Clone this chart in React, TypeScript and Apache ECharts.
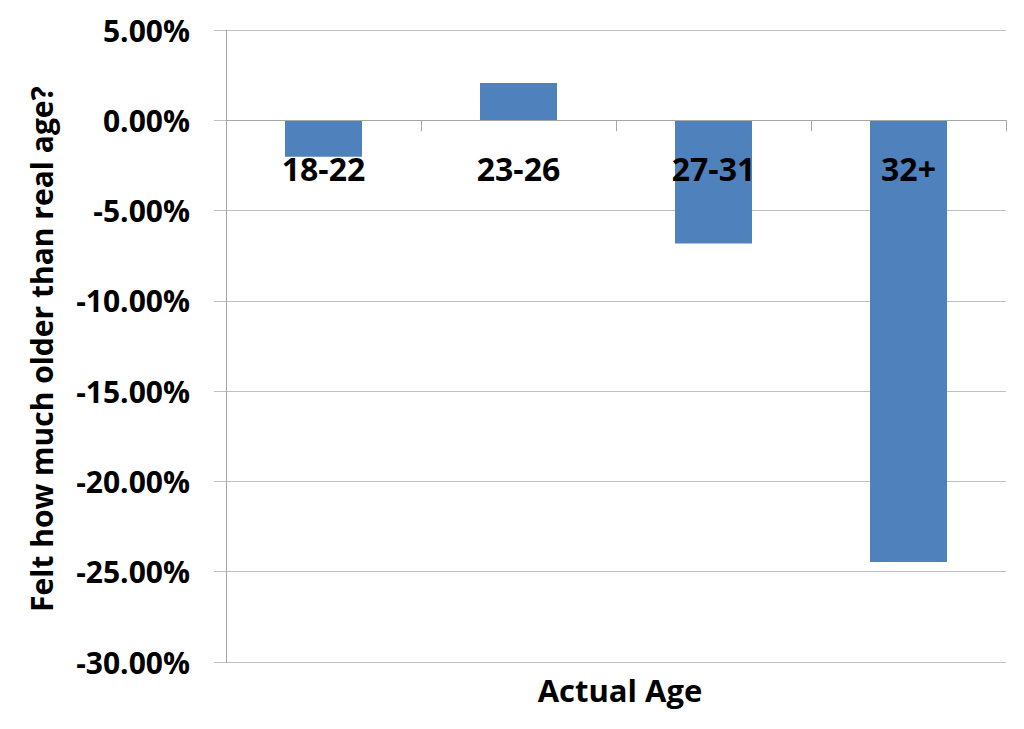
import React, { useEffect, useRef } from "react";
import * as echarts from "echarts";

const categories = ["18-22", "23-26", "27-31", "32+"];
const values = [-2.02, 2.06, -6.83, -24.46];
const yMin = -30;
const yMax = 5;
const yInterval = 5;
const xAxisTitle = "Actual Age";
const yAxisTitle = "Felt how much older than real age?";

const FONT = "'Open Sans', 'DejaVu Sans', sans-serif";

export default function App() {
  const ref = useRef<HTMLDivElement>(null);
  useEffect(() => {
    if (!ref.current) return;
    const chart = echarts.init(ref.current, undefined, { renderer: "svg" });
    const baseGraphics: any[] = [
      {
        type: "text",
        x: 620,
        y: 690,
        style: {
          text: xAxisTitle,
          fill: "#000",
          font: `bold 31px ${FONT}`,
          align: "center",
          verticalAlign: "middle",
        },
      },
      {
        type: "text",
        x: 41,
        y: 349,
        rotation: Math.PI / 2,
        style: {
          text: yAxisTitle,
          fill: "#000",
          font: `bold 30px ${FONT}`,
          align: "center",
          verticalAlign: "middle",
        },
      },
    ];
    chart.setOption({
      animation: false,
      backgroundColor: "#ffffff",
      grid: { left: 226, right: 18, top: 30, bottom: 67, containLabel: false },
      xAxis: {
        type: "category",
        data: categories,
        z: 10,
        axisLine: { show: true, onZero: true, lineStyle: { color: "#a6a6a6", width: 1 } },
        axisTick: { show: true, length: 11, alignWithLabel: false, lineStyle: { color: "#a6a6a6" } },
        axisLabel: { show: false },
        splitLine: { show: false },
      },
      yAxis: {
        type: "value",
        min: yMin,
        max: yMax,
        interval: yInterval,
        axisLine: { show: true, lineStyle: { color: "#a6a6a6", width: 1 } },
        axisTick: { show: true, length: 12, lineStyle: { color: "#bfbfbf" } },
        axisLabel: {
          margin: 36,
          color: "#000",
          fontFamily: FONT,
          fontWeight: "bold",
          fontSize: 30,
          formatter: (v: number) => v.toFixed(2) + "%",
        },
        splitLine: { show: true, lineStyle: { color: "#bfbfbf", width: 1 } },
      },
      series: [
        {
          type: "bar",
          data: values,
          barWidth: 77,
          z: 2,
          itemStyle: { color: "#4f81bd" },
        },
      ],
      graphic: baseGraphics,
    });
    const zeroY = chart.convertToPixel({ yAxisIndex: 0 }, 0) as number;
    const catLabels = categories.map((c) => ({
      type: "text",
      z: 100,
      x: chart.convertToPixel({ xAxisIndex: 0 }, c) as number,
      y: zeroY + 48,
      style: {
        text: c,
        fill: "#000",
        font: `bold 32px ${FONT}`,
        align: "center",
        verticalAlign: "middle",
      },
    }));
    chart.setOption({ graphic: [...baseGraphics, ...catLabels] });
    return () => chart.dispose();
  }, []);
  return (
    <div
      ref={ref}
      style={{ position: "fixed", left: 0, top: 0, width: 1024, height: 729, background: "#fff" }}
    />
  );
}
